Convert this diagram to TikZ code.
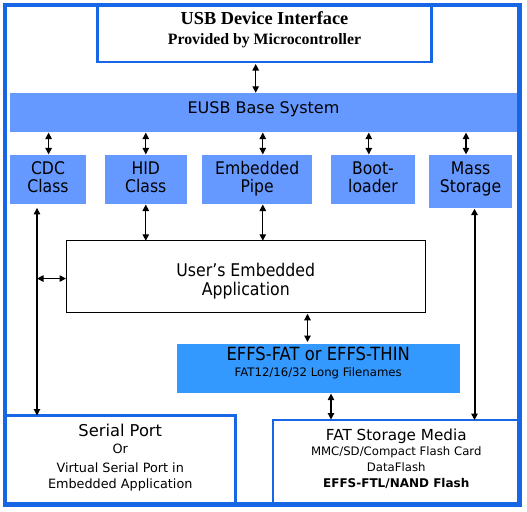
\documentclass[tikz,border=0pt]{standalone}
\usepackage{fontspec}
\setmainfont{DejaVu Sans}
\newfontfamily\cond{DejaVu Sans}[FakeStretch=0.9]
\newfontfamily\usbfont{Liberation Serif}
\usetikzlibrary{arrows.meta}
\definecolor{frameblue}{RGB}{22,102,230}
\definecolor{lightblue}{RGB}{102,153,255}
\definecolor{effsblue}{RGB}{51,153,255}
% #1: first baseline above node centre, #2: baseline distance, #3: lines
\newcommand\boxtext[3]{\raisebox{#1}[0pt][0pt]{\vtop{\baselineskip=#2\relax
  \lineskiplimit=-\maxdimen\lineskip=0pt\let\\\cr
  \halign{\hfil##\hfil\cr#3\crcr}}}}
\newcommand\gap[1]{\noalign{\kern#1}}
\begin{document}
\begin{tikzpicture}[x=1pt,y=-1pt,
  box/.style={inner sep=0pt,outer sep=0pt},
  bluebox/.style={box,fill=lightblue,font=\cond\fontsize{17.4}{18}\selectfont},
  linebox/.style={box,draw=frameblue,line width=2.4pt},
  bi/.style={{Triangle[length=6.5pt,width=6.5pt]}-{Triangle[length=6.5pt,width=6.5pt]},line width=1.1pt},
]
\useasboundingbox (0,0) rectangle (527,511);
% boxes
\node[linebox,minimum width=334pt,minimum height=57pt,
  font=\usbfont\bfseries\fontsize{18.3}{20}\selectfont] (usb) at (264.5,33.5)
  {\boxtext{9.4pt}{20.2pt}{USB Device Interface\\{\fontsize{15.8}{18}\selectfont Provided by Microcontroller}}};
\node[box,fill=lightblue,minimum width=507pt,minimum height=39pt,
  font=\fontsize{16}{18}\selectfont] (eusb) at (263.5,112.3) {\boxtext{-1.4pt}{18pt}{EUSB Base System}};
\node[bluebox,minimum width=76pt,minimum height=49pt] (cdc) at (48,179.4) {\boxtext{5.1pt}{18pt}{CDC\\Class}};
\node[bluebox,minimum width=82.4pt,minimum height=49pt] (hid) at (145.8,179.4) {\boxtext{5.1pt}{18pt}{HID\\Class}};
\node[bluebox,minimum width=109.5pt,minimum height=49pt] (pipe) at (257.2,179.4) {\boxtext{5.1pt}{18pt}{Embedded\\Pipe}};
\node[bluebox,minimum width=83.5pt,minimum height=49pt] (boot) at (373,179.4) {\boxtext{5.1pt}{18pt}{Boot-\\loader}};
\node[bluebox,minimum width=83.6pt,minimum height=53pt] (mass) at (470.6,181.4) {\boxtext{7.1pt}{18pt}{Mass\\Storage}};
\node[box,draw=black,line width=0.9pt,minimum width=359.5pt,minimum height=72pt,
  font=\cond\fontsize{17.5}{19}\selectfont] (app) at (245.75,276.75)
  {\boxtext{0.45pt}{19pt}{User’s Embedded\\Application}};
\node[box,fill=effsblue,minimum width=283pt,minimum height=48.6pt,
  font=\cond\fontsize{18.2}{18}\selectfont] (effs) at (318.2,368.3)
  {\boxtext{7.6pt}{16pt}{EFFS-FAT or EFFS-THIN\\{\normalfont\fontsize{11.7}{14}\selectfont FAT12/16/32 Long Filenames}}};
\node[linebox,minimum width=230.5pt,minimum height=89pt,
  font=\fontsize{12.8}{16}\selectfont] (serial) at (120.25,460)
  {\boxtext{24pt}{16.7pt}{{\fontsize{16.3}{18}\selectfont Serial Port}\\\gap{1pt}Or\\\gap{1.6pt}Virtual Serial Port in\\Embedded Application}};
\node[linebox,minimum width=246.5pt,minimum height=84.5pt,
  font=\fontsize{11.7}{15}\selectfont] (fat) at (396.25,462.25)
  {\boxtext{22.25pt}{15.7pt}{{\fontsize{15.2}{17}\selectfont FAT Storage Media}\\MMC/SD/Compact Flash Card\\DataFlash\\{\bfseries\fontsize{12}{15}\selectfont EFFS-FTL/NAND Flash}}};
% connectors
\draw[bi,shorten <=2pt] ([xshift=-8.8pt]usb.south) -- ([xshift=-8.8pt]usb.south |- eusb.north);
\draw[bi,shorten <=0.8pt,shorten >=0.5pt] ([xshift=0.6pt]cdc.north |- eusb.south) -- ([xshift=0.6pt]cdc.north);
\draw[bi,shorten <=0.8pt,shorten >=0.5pt] (hid.north |- eusb.south) -- (hid.north);
\draw[bi,shorten <=0.8pt,shorten >=0.5pt] ([xshift=5.6pt]pipe.north |- eusb.south) -- ([xshift=5.6pt]pipe.north);
\draw[bi,shorten <=0.8pt,shorten >=0.5pt] ([xshift=-4.2pt]boot.north |- eusb.south) -- ([xshift=-4.2pt]boot.north);
\draw[bi,shorten <=0.8pt,shorten >=0.5pt] ([xshift=-4.6pt]mass.north |- eusb.south) -- ([xshift=-4.6pt]mass.north);
\coordinate (cdcx) at ([xshift=-11pt]cdc.south);
\draw[bi,shorten <=4pt] (cdcx) -- (cdcx |- serial.north);
\draw[bi] ([yshift=-1.8pt]app.west -| cdcx) -- ([yshift=-1.8pt]app.west);
\draw[bi,shorten <=0.6pt] (hid.south) -- (hid.south |- app.north);
\draw[bi,shorten <=0.6pt] ([xshift=5.6pt]pipe.south) -- ([xshift=5.6pt]pipe.south |- app.north);
\draw[bi,shorten <=1pt,shorten >=2pt] ([xshift=-10.7pt]effs.north |- app.south) -- ([xshift=-10.7pt]effs.north);
\draw[bi,shorten <=1pt,shorten >=0.5pt] ([xshift=12.8pt]effs.south) -- ([xshift=12.8pt]effs.south |- fat.north);
\draw[bi,line width=2pt,shorten <=0.8pt] ([xshift=3.9pt]mass.south) -- ([xshift=3.9pt]mass.south |- fat.north);
% outer frame
\draw[frameblue,line width=4.5pt] (5,5) rectangle (519.5,504.5);
\end{tikzpicture}
\end{document}
